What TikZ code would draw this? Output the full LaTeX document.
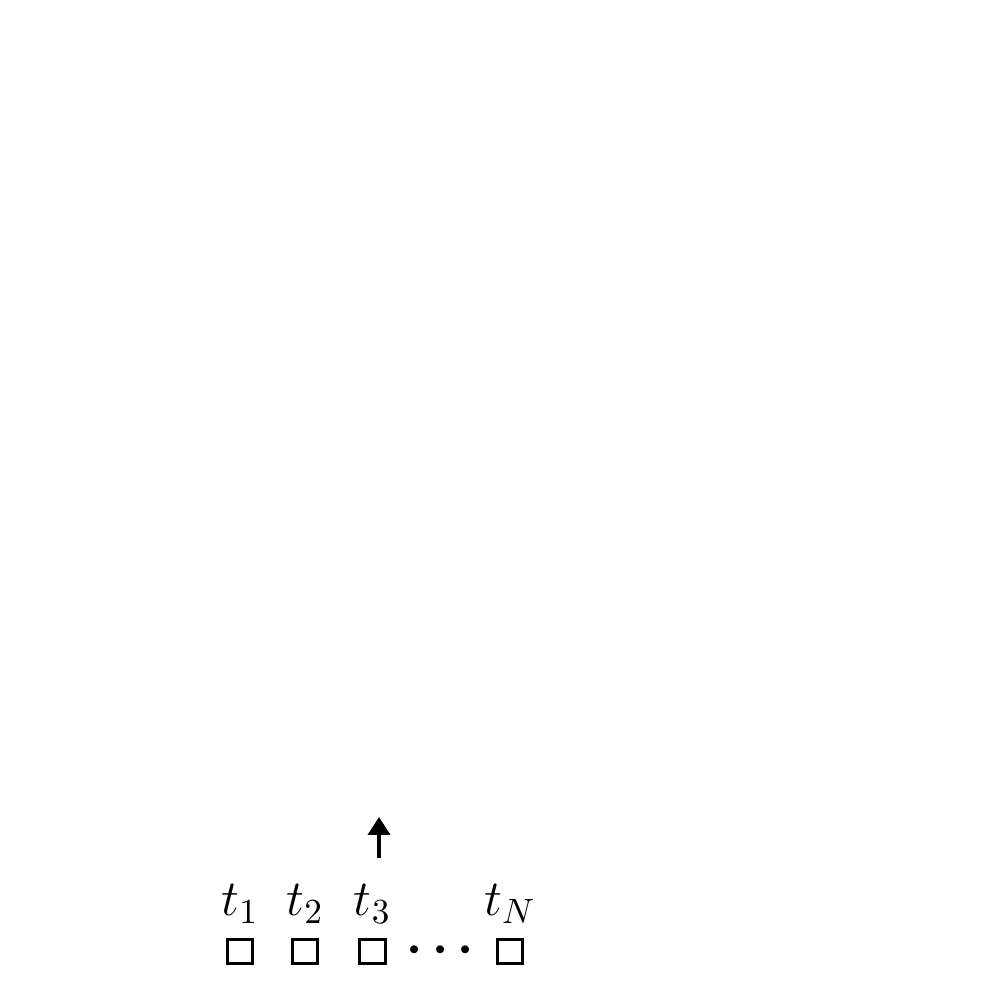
\documentclass[tikz,border=0pt]{standalone}
\usepackage{amsmath}
\usepackage{amssymb}
\usepackage{bm}
\usetikzlibrary{arrows.meta}

\begin{document}
\begin{tikzpicture}\Large
            \useasboundingbox (0,0) rectangle (10,10.01);
            \tikzset{cell/.style={draw,line width=0.8pt,minimum width=0.255cm,minimum height=0.235cm,inner sep=0pt}}

            \foreach \x/\n in {2.40/1,3.05/2,3.725/3,5.10/N}{
                \node[cell] (box\n) at (\x,0.495) {};
                \node[anchor=base] (lab\n) at (\x,0.85) {$t_{\n}$};
            }
            \node (dots) at (4.45,0.50) {$\bm{\cdots}$};

            \coordinate (from) at (3.79,1.43);
            \coordinate (to) at (3.79,1.84);
            \draw[line width=0.04cm,-{Triangle[width=0.22cm,length=0.18cm]}](from)--(to);

        \end{tikzpicture}
\end{document}
